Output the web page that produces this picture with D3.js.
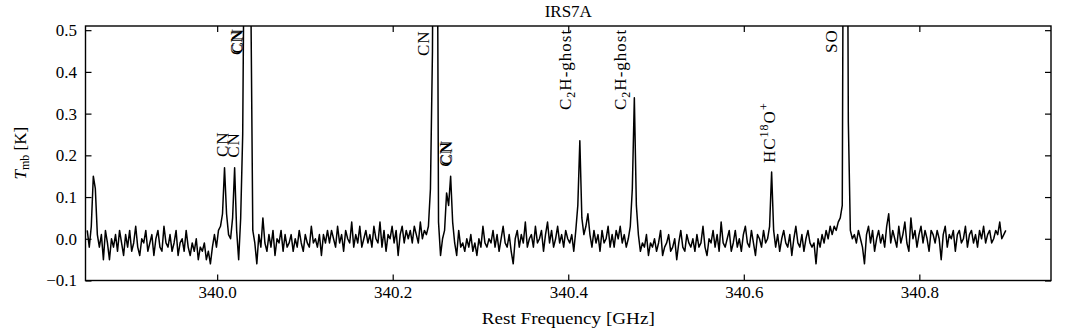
<!DOCTYPE html>
<html><head><meta charset="utf-8">
<script src="https://cdn.jsdelivr.net/npm/d3@7"></script>
<style>
body{margin:0;background:#fff}
svg text{font-family:"Liberation Serif","DejaVu Serif","Times New Roman",Times,serif !important;fill:#000}
</style>
</head><body>
<svg id="c" width="1072" height="331"></svg>
<script>
// ---------------- data ----------------
const chartTitle = "IRS7A";
const xLabel = "Rest Frequency [GHz]";
const xDomain = [339.85, 340.95];
const yDomain = [-0.1, 0.51];
const xTicks = [340.0, 340.2, 340.4, 340.6, 340.8];
const yTicks = [-0.1, 0.0, 0.1, 0.2, 0.3, 0.4, 0.5];
// channel grid of the spectrum (GHz)
const chanStart = 339.852;
const chanWidth = 0.0023;
// main-beam temperature per channel, in units of 0.01 K
const tmb = [
 2,-2,3,15,12,1,-2,1,-5,2,-1,-5,0,-2,1,-3,2,-1,-4,1,
 -2,2,-3,-1,3,-2,-4,0,-1,2,-3,-1,1,-4,0,2,-2,-3,3,-1,
 -2,1,-3,-1,2,-4,-1,0,-3,2,-2,-4,-1,-3,0,-5,-2,-3,-1,-5,
 -3,-6,-2,1,-2,2,3,6,17,6,1,0,5,17,2,-5,5,25,90,150,
 150,60,2,-1,-6,1,-2,5,-1,-3,1,-2,2,-4,0,-1,2,-3,1,-2,
 -1,1,-3,0,-2,2,-1,-3,1,-1,-2,3,-1,0,-2,1,-4,1,-1,2,
 -1,2,0,-2,3,-1,1,-3,2,0,-1,4,-2,1,-1,3,-2,0,2,-1,
 1,-2,3,0,-1,4,-2,2,-3,1,0,3,-1,2,-4,1,3,-1,2,0,
 2,-1,3,1,-1,4,0,2,1,3,12,45,150,130,4,-4,0,2,11,8,
 15,4,-1,-4,2,-2,-1,-3,0,-2,1,-3,-1,-4,0,-2,3,-1,-2,0,
 -1,2,-2,1,-3,0,3,-1,-2,1,-3,-6,0,2,-2,1,-1,4,-2,0,
 1,-2,3,-1,0,2,-3,1,4,-1,2,-2,0,3,-1,1,-2,2,0,-1,
 1,-3,2,8,23.5,5,1,3,6,1,-2,2,-1,1,-3,2,-1,0,3,-2,
 1,-2,2,0,3,-1,1,-2,0,3,12,33.8,8,1,-3,-1,-2,1,-4,-1,
 -2,0,-3,-1,2,-4,-2,-1,1,-3,-2,0,-5,-1,2,-2,-3,1,-1,-2,
 0,-3,1,-2,-1,3,-2,-4,0,-1,2,-2,1,-3,4,-1,-2,0,2,-3,
 -1,2,-2,0,-3,1,3,-1,-2,2,-1,-4,1,0,-2,2,-1,0,3,16,
 2,-2,1,-3,0,2,-1,-2,1,-4,0,3,-1,-2,1,-3,0,2,-1,-2,
 -1,-6,0,-2,1,-1,2,0,3,1,3,2,4,5,8,150,150,28,2,0,
 1,-1,2,0,-2,-6,1,3,-1,2,-3,0,2,-1,1,-2,3,6,-1,2,
 0,-2,3,-1,1,4,-1,-3,5,0,2,-2,1,3,-1,2,0,-3,2,1,
 -1,2,0,-5,1,3,-2,1,0,2,-3,1,2,-1,0,3,-2,1,2,-1,
 1,-2,2,0,3,-1,1,2,-1,0,2,1,4,0,1,2
];
// line identifications
const lineLabels = ["CN","CN","CN","CN","CN","CN","CN","C_{2}H-ghost","C_{2}H-ghost","HC^{18}O^{+}","SO"];
const lineFreqs  = [340.0057,340.0182,340.0217,340.0235,340.2348,340.2600,340.2617,340.3966,340.4593,340.6290,340.7000];
const lineLabelY = [0.196,0.194,0.4405,0.444,0.438,0.1725,0.176,0.3087,0.3087,0.1816,0.4453];

// ---------------- layout ----------------
const m = {left:85.5, right:1051, top:26, bottom:280.5};
const svg = d3.select("#c");
const x = d3.scaleLinear().domain(xDomain).range([m.left, m.right]);
const y = d3.scaleLinear().domain(yDomain).range([m.bottom, m.top]);
const FS = 17;

svg.append("defs").append("clipPath").attr("id","clip")
  .append("rect").attr("x",m.left).attr("y",m.top)
  .attr("width",m.right-m.left).attr("height",m.bottom-m.top);

// spectrum
const pts = tmb.map((v,i)=>({f:chanStart+chanWidth*i, t:v/100}));
svg.append("path").datum(pts)
  .attr("clip-path","url(#clip)")
  .attr("fill","none").attr("stroke","#000").attr("stroke-width",1.5)
  .attr("stroke-linejoin","round")
  .attr("d", d3.line().x(d=>x(d.f)).y(d=>y(d.t)));

// axes (inward ticks)
const fmt = d3.format(".1f");
function styleAxis(g){
  g.attr("font-family", null).attr("font-size", null);
  g.select(".domain").remove();
  g.selectAll(".tick line").attr("stroke","#000").attr("stroke-width",1.2);
  g.selectAll(".tick text").attr("font-size",FS).attr("fill","#000");
}
svg.append("g").attr("transform",`translate(0,${m.bottom})`)
  .call(d3.axisBottom(x).tickValues(xTicks).tickFormat(fmt).tickSize(-6).tickPadding(5.5)).call(styleAxis);
svg.append("g").attr("transform",`translate(0,${m.top})`)
  .call(d3.axisTop(x).tickValues(xTicks).tickFormat("").tickSize(-6)).call(styleAxis);
svg.append("g").attr("transform",`translate(${m.left},0)`)
  .call(d3.axisLeft(y).tickValues(yTicks).tickFormat(fmt).tickSize(-6).tickPadding(8.5)).call(styleAxis);
svg.append("g").attr("transform",`translate(${m.right},0)`)
  .call(d3.axisRight(y).tickValues(yTicks).tickFormat("").tickSize(-6)).call(styleAxis);

// frame
svg.append("rect").attr("x",m.left).attr("y",m.top)
  .attr("width",m.right-m.left).attr("height",m.bottom-m.top)
  .attr("fill","none").attr("stroke","#000").attr("stroke-width",1.4);

// rich text helper: _{..} subscript, ^{..} superscript
function rich(sel, s, small){
  const re = /([_^])\{([^}]*)\}/g;
  let last = 0, shift = 0, mm;
  const add = (txt, dy, fs) => {
    const t = sel.append("tspan").text(txt);
    if (dy) t.attr("dy", dy);
    if (fs) t.attr("font-size", fs);
  };
  while ((mm = re.exec(s))){
    if (mm.index > last){ add(s.slice(last, mm.index), shift ? -shift : null); shift = 0; }
    const d = mm[1] === "_" ? 4 : -7;
    add(mm[2], d - shift, small);
    shift = d;
    last = re.lastIndex;
  }
  if (last < s.length){ add(s.slice(last), shift ? -shift : null); }
}

// line labels (rotated)
lineLabels.forEach((lab,i)=>{
  const t = svg.append("text")
    .attr("transform",`translate(${x(lineFreqs[i])+5.5},${y(lineLabelY[i])}) rotate(-90)`)
    .attr("font-size",FS).attr("letter-spacing","1px");
  rich(t, lab, 12);
});

// title
svg.append("text").attr("x",(m.left+m.right)/2).attr("y",17)
  .attr("text-anchor","middle").attr("font-size",FS).text(chartTitle);

// x label
svg.append("text").attr("x",(m.left+m.right)/2).attr("y",324)
  .attr("text-anchor","middle").attr("font-size",FS)
  .attr("textLength",173).attr("lengthAdjust","spacingAndGlyphs").text(xLabel);

// y label
const yl = svg.append("text")
  .attr("transform",`translate(26,${(m.top+m.bottom)/2}) rotate(-90)`)
  .attr("text-anchor","middle").attr("font-size",FS);
yl.append("tspan").attr("font-style","italic").text("T");
yl.append("tspan").attr("font-size",12).attr("dy",3).text("mb");
yl.append("tspan").attr("dy",-3).text(" [K]");
</script>
</body></html>
